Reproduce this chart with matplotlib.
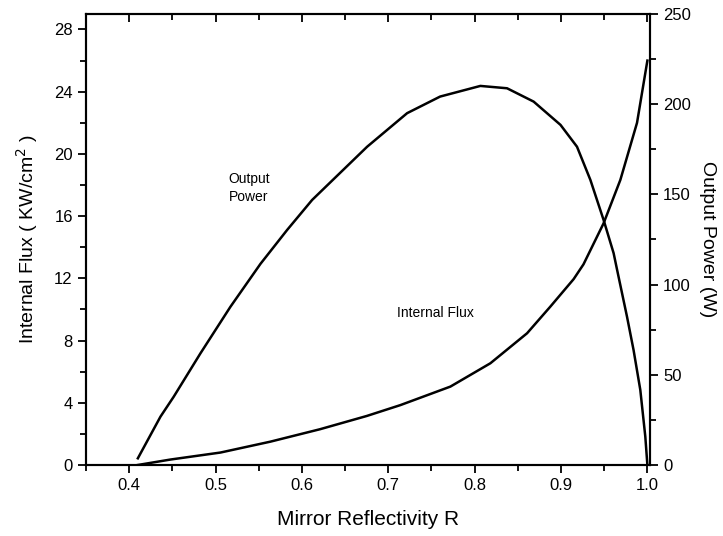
import numpy as np
from matplotlib import pyplot as plt
from matplotlib.ticker import MultipleLocator
from matplotlib.markers import TICKDOWN

plt.rcParams['font.family'] = ['Liberation Sans', 'DejaVu Sans']

# output power (right axis, W) vs mirror reflectivity
R_power = [0.41, 0.4362, 0.4516, 0.4825, 0.5172, 0.552, 0.5829, 0.6118,
           0.6755, 0.7218, 0.76, 0.8066, 0.8375, 0.8683, 0.8994, 0.9185,
           0.934, 0.9493, 0.9609, 0.965, 0.9764, 0.984, 0.9918, 0.9976, 1.0]
power = [3.7, 26.8, 37.9, 61.9, 87.7, 111.5, 130.3, 146.9,
         176.4, 195, 204.2, 210.1, 208.8, 201.4, 188.5, 176.4,
         158, 135.8, 117.4, 108, 82.2, 63.7, 41.6, 15.7, 0]

# internal flux (left axis, KW/cm^2)
R_flux = [0.41, 0.4478, 0.5057, 0.5635, 0.621, 0.675, 0.714, 0.7719,
          0.8182, 0.8607, 0.8876, 0.9146, 0.926, 0.9493, 0.9687, 0.988, 1.0]
flux = [0.0, 0.35, 0.8, 1.5, 2.3, 3.15, 3.85, 5.04,
        6.54, 8.47, 10.18, 11.95, 12.9, 15.54, 18.33, 22.0, 26.0]

xt = [0.4, 0.5, 0.6, 0.7, 0.8, 0.9, 1.0]
xt_minor = [0.45, 0.55, 0.65, 0.75, 0.85, 0.95]

fig = plt.figure(figsize=(7.23, 5.36), dpi=100)
ax = fig.add_axes([0.119, 0.1325, 0.78, 0.8415])
ax2 = ax.twinx()

ax.plot(R_flux, flux, color='black', lw=1.8, solid_joinstyle='round')
ax2.plot(R_power, power, color='black', lw=1.8, solid_joinstyle='round')

ax.set_xlim(0.35, 1.003)
ax.set_ylim(0, 29)
ax2.set_ylim(0, 250)

ax.set_xticks(xt)
ax.set_xticklabels(['0.4', '0.5', '0.6', '0.7', '0.8', '0.9', '1.0'])
ax.xaxis.set_minor_locator(MultipleLocator(0.05))
ax.yaxis.set_major_locator(MultipleLocator(4))
ax.yaxis.set_minor_locator(MultipleLocator(2))
ax2.yaxis.set_major_locator(MultipleLocator(50))
ax2.yaxis.set_minor_locator(MultipleLocator(25))

for a in (ax, ax2):
    a.tick_params(which='both', direction='out', labelsize=12, width=1.3)
    a.tick_params(which='major', length=6)
    a.tick_params(which='minor', length=4)
    for s in a.spines.values():
        s.set_linewidth(1.5)

# inward ticks along the top edge, drawn as tick markers at the x tick positions
top = ax.get_xaxis_transform()
ax.plot(xt, [1] * len(xt), transform=top, ls='none', marker=TICKDOWN,
        ms=6, mew=1.3, color='black', clip_on=False, zorder=5)
ax.plot(xt_minor, [1] * len(xt_minor), transform=top, ls='none', marker=TICKDOWN,
        ms=4, mew=1.3, color='black', clip_on=False, zorder=5)

ax.set_xlabel('Mirror Reflectivity R', fontsize=15, labelpad=12)
ax.set_ylabel('Internal Flux ( KW/cm$^2$ )', fontsize=14, labelpad=10)
ax2.set_ylabel('Output Power (W)', fontsize=14, rotation=270, labelpad=18)

ax.text(0.515, 17.8, 'Output\nPower', fontsize=10, ha='left', va='center', linespacing=1.3)
ax.text(0.7096, 9.8, 'Internal Flux', fontsize=10, ha='left', va='center')

plt.savefig('out.png', dpi=100)
